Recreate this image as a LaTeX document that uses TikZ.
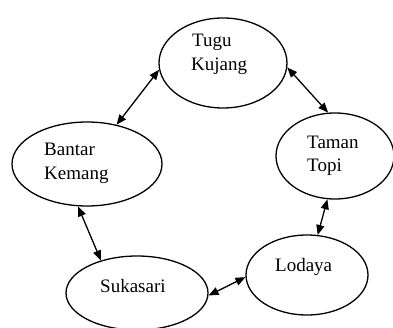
\documentclass[tikz,border=0pt]{standalone}
\usepackage{fontspec}
\setmainfont{Liberation Serif}
\usetikzlibrary{shapes.geometric,arrows.meta}
\begin{document}
\begin{tikzpicture}[x=1pt,y=-1pt,
  place/.style={draw, ellipse, line width=1.3pt, inner sep=0pt},
  lbl/.style={anchor=base west, inner sep=0pt, font=\fontsize{19}{24}\selectfont},
  link/.style={line width=1.3pt, {Triangle[length=10pt,width=8pt]}-{Triangle[length=10pt,width=8pt]}}]
\useasboundingbox (0,0) rectangle (393,328);
% stations
\node[place, minimum width=128pt, minimum height=90pt] (tugu) at (223,63) {};
\node[place, minimum width=150pt, minimum height=84pt] (bantar) at (87,164) {};
\node[place, minimum width=118pt, minimum height=86pt] (taman) at (335,156) {};
\node[place, minimum width=122pt, minimum height=80pt] (lodaya) at (307,275) {};
\node[place, minimum width=142pt, minimum height=74pt] (sukasari) at (137,293) {};
% names
\node[lbl] (t1) at (192,46.5) {Tugu};
\node[lbl] (t2) at (191,70.5) {Kujang};
\node[lbl] (b1) at (44,156) {Bantar};
\node[lbl] (b2) at (44,180) {Kemang};
\node[lbl] (m1) at (307,149) {Taman};
\node[lbl] (m2) at (307,172) {Topi};
\node[lbl] (l1) at (275,272) {Lodaya};
\node[lbl] (s1) at (100,293) {Sukasari};
% routes
\draw[link] (tugu.186) -- (bantar.53);
\draw[link] (tugu.356) -- (taman.99);
\draw[link] (bantar.258) -- (sukasari.138);
\draw[link] (taman.260) -- (lodaya.75);
\draw[link] (sukasari.358) -- (lodaya.182);
\end{tikzpicture}
\end{document}
